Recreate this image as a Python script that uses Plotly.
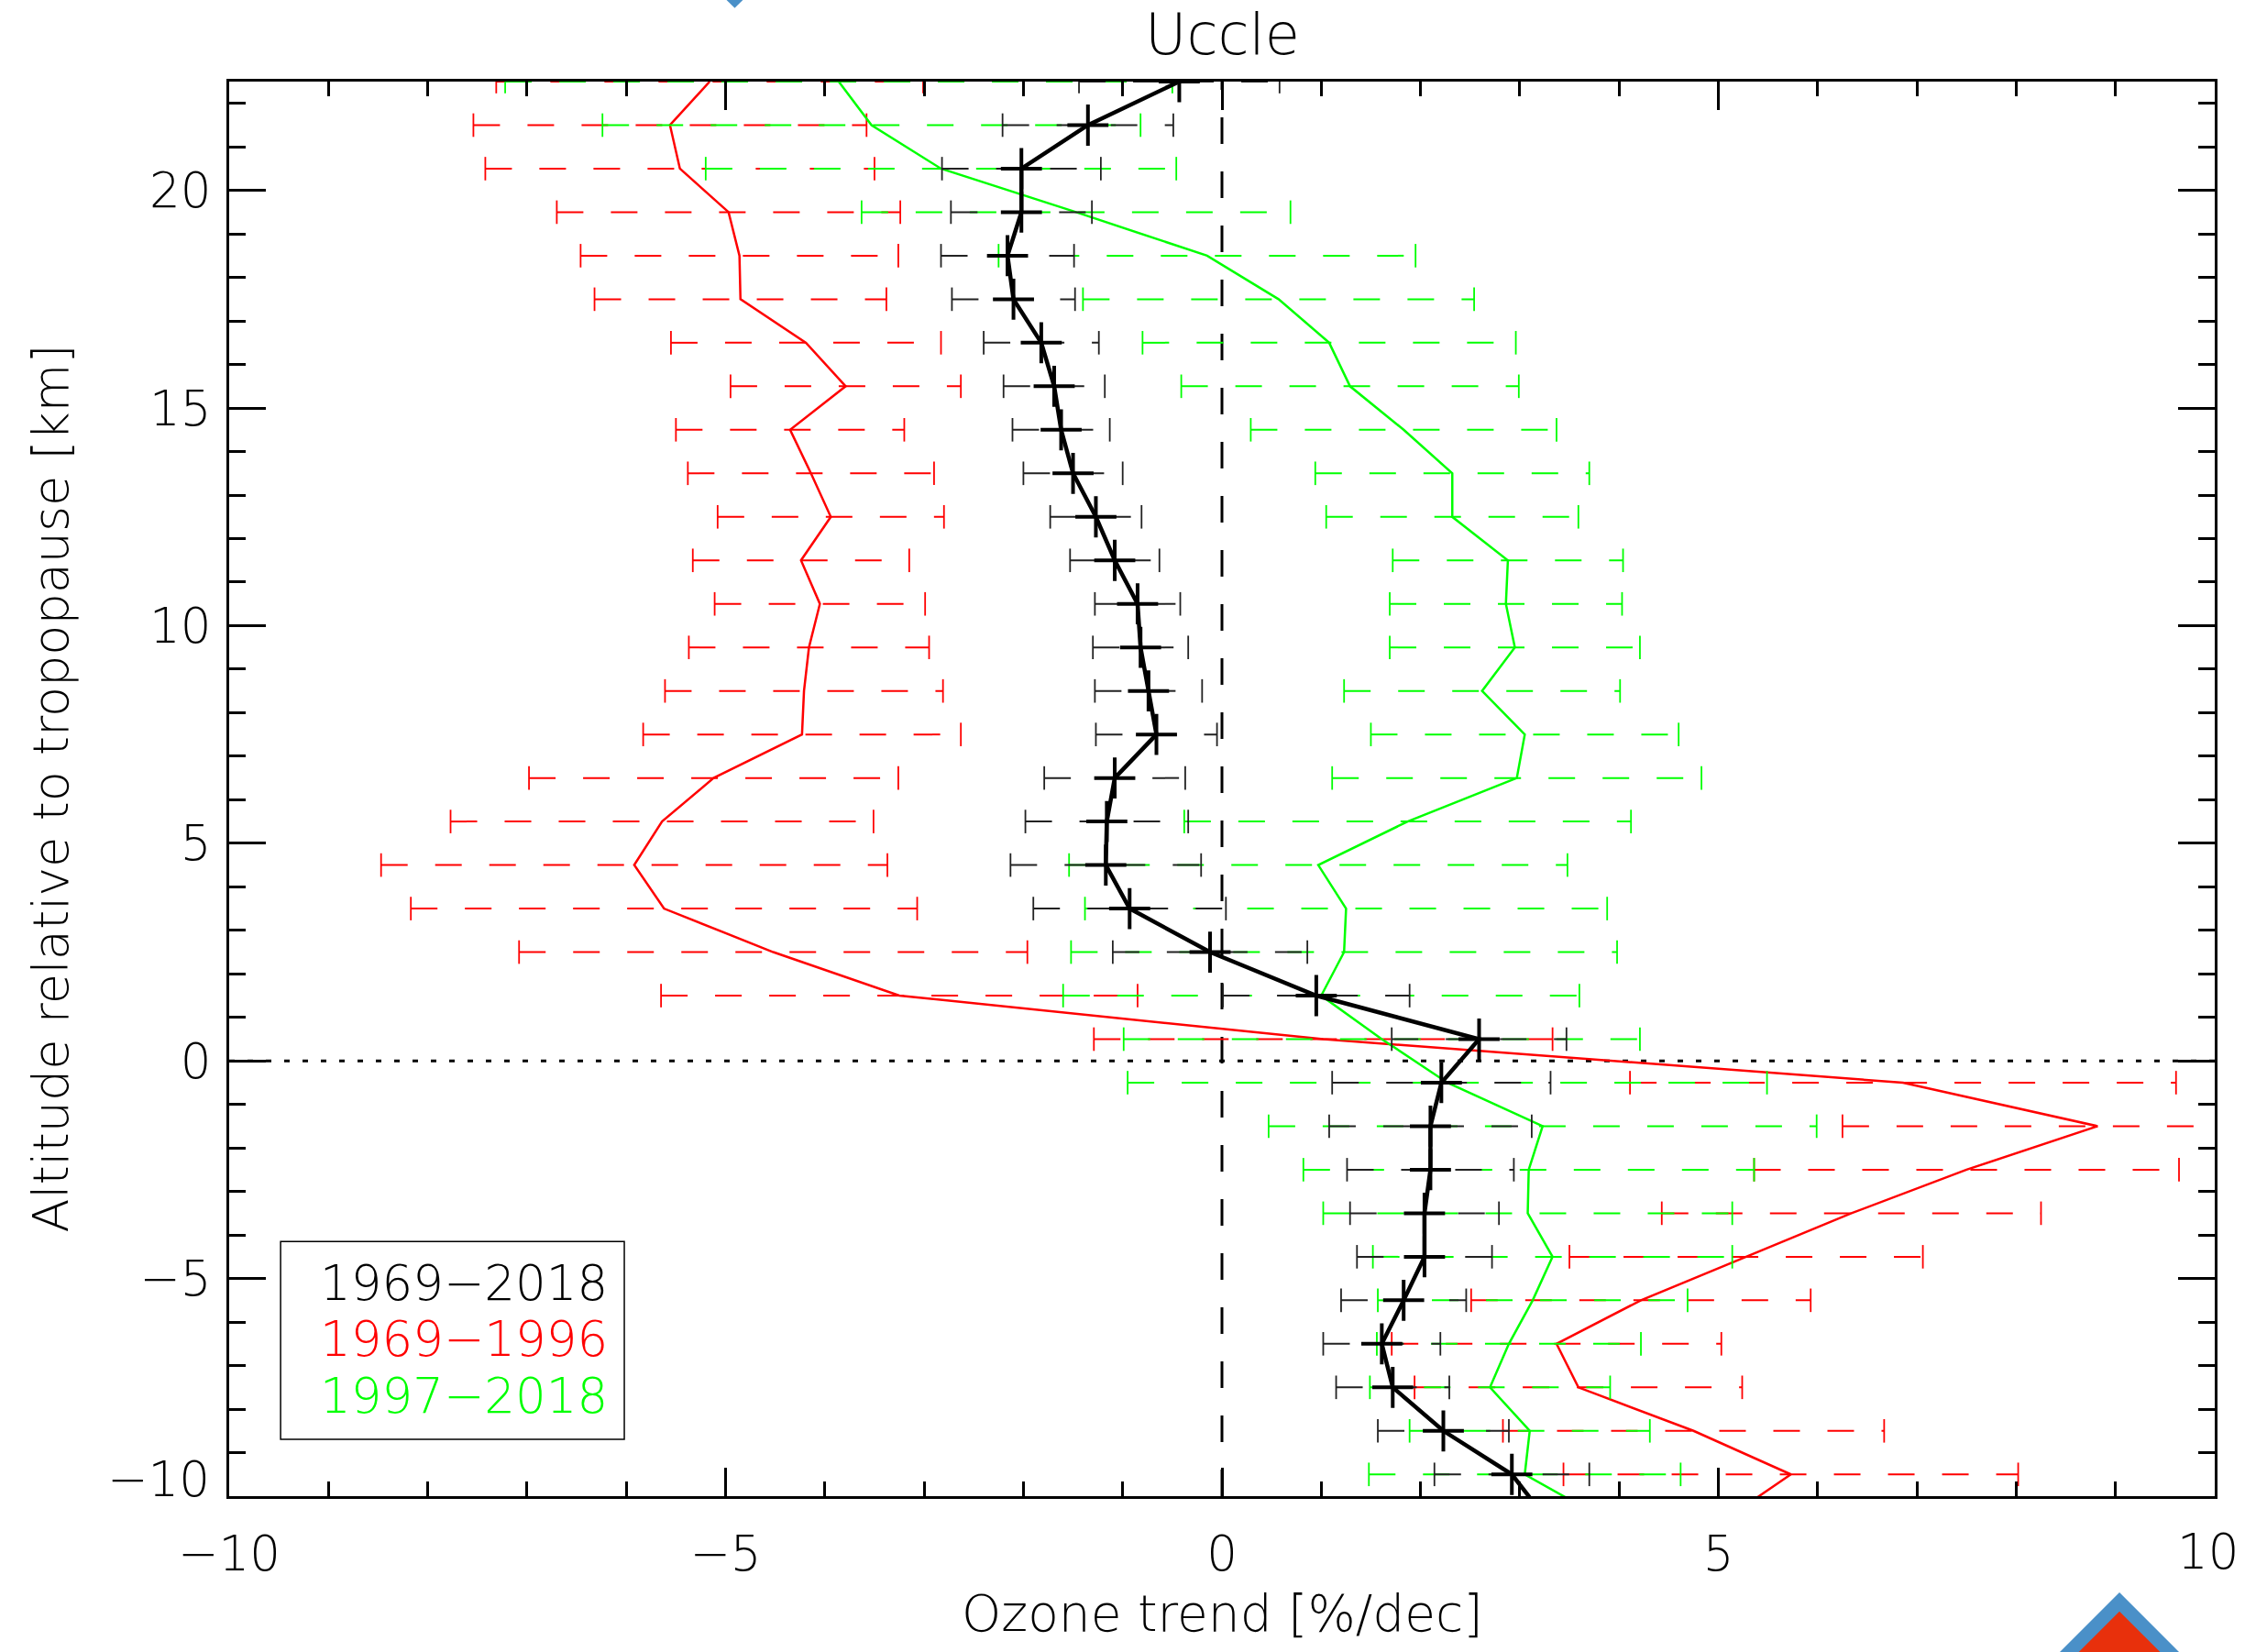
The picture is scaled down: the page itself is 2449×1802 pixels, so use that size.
import plotly.graph_objects as go

# ---------------- data ----------------
altitude = [22.5, 21.5, 20.5, 19.5, 18.5, 17.5, 16.5, 15.5, 14.5, 13.5, 12.5, 11.5,
            10.5, 9.5, 8.5, 7.5, 6.5, 5.5, 4.5, 3.5, 2.5, 1.5, 0.5, -0.5, -1.5,
            -2.5, -3.5, -4.5, -5.5, -6.5, -7.5, -8.5, -9.5, -10.5]

trend_1969_2018 = [-0.43, -1.35, -2.02, -2.02, -2.16, -2.10, -1.82, -1.69, -1.62, -1.50, -1.27, -1.08,
                   -0.85, -0.82, -0.74, -0.66, -1.08, -1.16, -1.17, -0.93, -0.12, 0.95, 2.59, 2.21, 2.10,
                   2.10, 2.04, 2.04, 1.83, 1.61, 1.72, 2.23, 2.92, 3.26]
err_1969_2018 = [1.01, 0.86, 0.80, 0.71, 0.67, 0.62, 0.58, 0.51, 0.49, 0.50, 0.46, 0.45,
                 0.43, 0.48, 0.54, 0.61, 0.71, 0.82, 0.96, 0.97, 0.98, 0.94, 0.88, 1.10, 1.02,
                 0.84, 0.75, 0.68, 0.63, 0.59, 0.57, 0.66, 0.78, 0.80]

trend_1969_1996 = [-5.16, -5.56, -5.46, -4.97, -4.86, -4.85, -4.19, -3.79, -4.35, -4.14, -3.94, -4.24,
                   -4.05, -4.16, -4.21, -4.23, -5.12, -5.64, -5.92, -5.62, -4.52, -3.25, 1.02, 6.86, 8.82,
                   7.50, 6.34, 5.28, 4.22, 3.37, 3.59, 4.75, 5.73, 5.09]
err_1969_1996 = [2.15, 1.98, 1.96, 1.73, 1.60, 1.47, 1.36, 1.16, 1.15, 1.24, 1.14, 1.09,
                 1.06, 1.21, 1.40, 1.60, 1.86, 2.13, 2.55, 2.55, 2.56, 2.40, 2.31, 2.75, 2.57,
                 2.14, 1.91, 1.78, 1.71, 1.66, 1.65, 1.92, 2.29, 2.30]

trend_1997_2018 = [-3.86, -3.53, -2.83, -1.47, -0.15, 0.57, 1.08, 1.29, 1.83, 2.32, 2.32, 2.88,
                   2.86, 2.95, 2.62, 3.05, 2.97, 1.87, 0.97, 1.25, 1.23, 1.00, 1.61, 2.27, 3.23,
                   3.09, 3.08, 3.33, 3.13, 2.89, 2.70, 3.10, 3.05, 3.83]
err_1997_2018 = [3.36, 2.71, 2.37, 2.16, 2.10, 1.97, 1.88, 1.70, 1.54, 1.38, 1.27, 1.16,
                 1.17, 1.26, 1.39, 1.55, 1.86, 2.25, 2.51, 2.63, 2.75, 2.60, 2.60, 3.22, 2.76,
                 2.27, 2.06, 1.81, 1.56, 1.33, 1.21, 1.21, 1.57, 1.60]

series_names = ["1969\u22122018", "1969\u22121996", "1997\u22122018"]
series_colors = ["#000000", "#ff0000", "#00ff00"]

x_tick_values = [-10, -5, 0, 5, 10]
x_tick_labels = ["\u221210", "\u22125", "0", "5", ""]
x_right_label = "10"
y_tick_values = [-10, -5, 0, 5, 10, 15, 20]
y_tick_labels = ["", "\u22125", "0", "5", "10", "15", "20"]
y_bottom_label = "\u221210"
title_text = "Uccle"
x_title = "Ozone trend [%/dec]"
y_title = "Altitude relative to tropopause [km]"

# ---------------- style ----------------
FONT = "DejaVu Sans"
WEIGHT = 300
CAP = 0.27          # half-height of error-bar caps (km)
DASH = "29px,30px"

fig = go.Figure()


def add_series(center, half, color, line_w, bar_color, markers=False):
    bx, by, cx, cy = [], [], [], []
    for a, c, h in zip(altitude, center, half):
        bx += [c - h, c + h, None]
        by += [a, a, None]
        cx += [c - h, c - h, None, c + h, c + h, None]
        cy += [a - CAP, a + CAP, None, a - CAP, a + CAP, None]
    fig.add_trace(go.Scatter(x=bx, y=by, mode="lines", hoverinfo="skip", showlegend=False,
                             line=dict(color=bar_color, width=2, dash=DASH)))
    fig.add_trace(go.Scatter(x=cx, y=cy, mode="lines", hoverinfo="skip", showlegend=False,
                             line=dict(color=bar_color, width=1.8)))
    fig.add_trace(go.Scatter(x=center, y=altitude,
                             mode="lines+markers" if markers else "lines",
                             showlegend=False,
                             line=dict(color=color, width=line_w),
                             marker=dict(symbol="cross-thin", size=32,
                                         line=dict(color=color, width=4))))


add_series(trend_1969_1996, err_1969_1996, series_colors[1], 2.5, series_colors[1])
add_series(trend_1997_2018, err_1997_2018, series_colors[2], 2.5, series_colors[2])
add_series(trend_1969_2018, err_1969_2018, series_colors[0], 4.5, "#222222", markers=True)

# reference lines
fig.add_shape(type="line", xref="x", yref="paper", x0=0, x1=0, y0=0, y1=1,
              line=dict(color="black", width=3, dash=DASH), layer="below")
fig.add_shape(type="line", xref="paper", yref="y", x0=0, x1=1, y0=0, y1=0,
              line=dict(color="black", width=3, dash="6px,14px"), layer="below")

# legend box
fig.add_shape(type="rect", xref="paper", yref="paper", x0=0.0259, x1=0.199, y0=0.0402, y1=0.180,
              line=dict(color="black", width=1.5), fillcolor="rgba(0,0,0,0)")
legend_y = [0.1507, 0.1112, 0.0707]
for name, col, ly in zip(series_names, series_colors, legend_y):
    fig.add_annotation(text=name, xref="paper", yref="paper", x=0.0448, y=ly,
                       xanchor="left", yanchor="middle", showarrow=False,
                       font=dict(family=FONT, size=53, color=col, weight=WEIGHT))

# end tick labels kept inside the page like the original
fig.add_annotation(text=y_bottom_label, xref="paper", yref="y", x=0, y=y_tick_values[0],
                   xanchor="right", yanchor="middle", xshift=-19, yshift=19, showarrow=False,
                   font=dict(family=FONT, size=53, color="black", weight=WEIGHT))
fig.add_annotation(text=x_right_label, xref="x", yref="paper", x=x_tick_values[-1], y=0,
                   xanchor="center", yanchor="middle", xshift=-8, yshift=-60, showarrow=False,
                   font=dict(family=FONT, size=53, color="black", weight=WEIGHT))

# titles
fig.add_annotation(text=title_text, xref="paper", yref="paper", x=0.5, y=1.0337,
                   xanchor="center", yanchor="middle", showarrow=False,
                   font=dict(family=FONT, size=62, color="black", weight=WEIGHT))
fig.add_annotation(text=x_title, xref="paper", yref="paper", x=0.5, y=-0.083,
                   xanchor="center", yanchor="middle", showarrow=False,
                   font=dict(family=FONT, size=55, color="black", weight=WEIGHT))
fig.add_annotation(text=y_title, xref="paper", yref="paper", x=-0.090, y=0.5,
                   xanchor="center", yanchor="middle", showarrow=False, textangle=-90,
                   font=dict(family=FONT, size=54, color="black", weight=WEIGHT))

# cropped logo fragments
fig.add_shape(type="path", xref="paper", yref="paper",
              path="M 0.9520 -0.0680 L 0.9150 -0.1200 L 0.9890 -0.1200 Z",
              fillcolor="#4a90c8", line=dict(width=0), layer="above")
fig.add_shape(type="path", xref="paper", yref="paper",
              path="M 0.9520 -0.0815 L 0.9245 -0.1200 L 0.9795 -0.1200 Z",
              fillcolor="#e8300c", line=dict(width=0), layer="above")
fig.add_shape(type="path", xref="paper", yref="paper",
              path="M 0.2488 1.0600 L 0.2604 1.0600 L 0.2546 1.0520 Z",
              fillcolor="#4a90c8", line=dict(width=0), layer="above")

axis_common = dict(showline=True, linewidth=3, linecolor="black", mirror="ticks",
                   ticks="inside", tickwidth=3, tickcolor="black", showgrid=False,
                   zeroline=False, automargin=False,
                   tickfont=dict(family=FONT, size=53, color="black", weight=WEIGHT))

fig.update_xaxes(range=[-10, 10], tickmode="array", tickvals=x_tick_values, ticktext=x_tick_labels,
                 ticklen=31, ticklabelstandoff=14,
                 minor=dict(tickmode="linear", tick0=0, dtick=1, ticks="inside", ticklen=16,
                            tickwidth=3, tickcolor="black", showgrid=False),
                 **axis_common)
fig.update_yaxes(range=[-10, 22.5], tickmode="array", tickvals=y_tick_values, ticktext=y_tick_labels,
                 ticklen=40, ticklabelstandoff=6,
                 minor=dict(tickmode="linear", tick0=0, dtick=1, ticks="inside", ticklen=18,
                            tickwidth=3, tickcolor="black", showgrid=False),
                 **axis_common)

fig.update_layout(width=2449, height=1802,
                  margin=dict(l=250, r=33, t=89, b=170, pad=0, autoexpand=False),
                  plot_bgcolor="white", paper_bgcolor="white",
                  showlegend=False)

fig.write_html("out.html", config={"displayModeBar": False},
               post_script="document.body.style.margin='0';")
